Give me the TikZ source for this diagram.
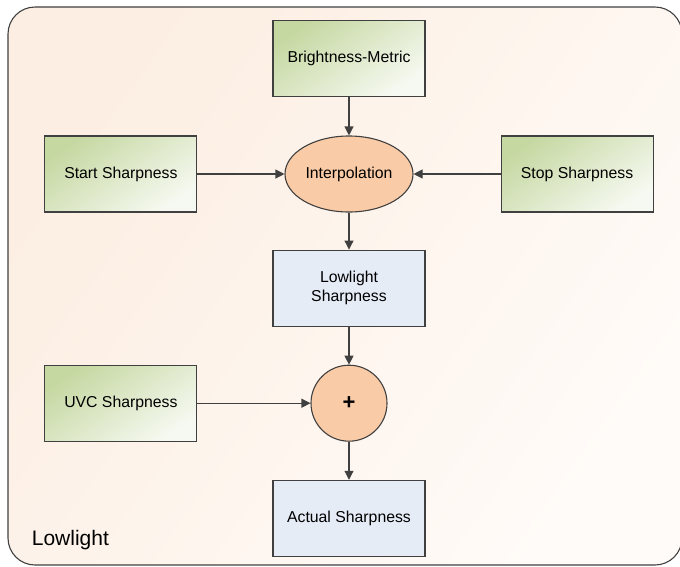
\documentclass[tikz,border=0pt]{standalone}
\usepackage{fontspec}
\setmainfont{Liberation Sans}
\usetikzlibrary{positioning,arrows.meta,shapes.geometric,calc}
\definecolor{bgdark}{HTML}{FCEEE2}
\definecolor{bglight}{HTML}{FFFBF8}
\definecolor{srcdark}{HTML}{C6D8A2}
\definecolor{srclight}{HTML}{F6F9F1}
\definecolor{resfill}{HTML}{E6ECF6}
\definecolor{opfill}{HTML}{F9CBA6}
\definecolor{edge}{HTML}{404040}
\begin{document}
\begin{tikzpicture}[x=1pt,y=-1pt,>={Triangle[length=9pt,width=9pt]},
  font=\fontsize{15.8}{19}\selectfont, line width=1.1pt,
  src/.style={draw=edge,top color=srcdark,bottom color=srclight,shading angle=35,
    minimum width=152pt,minimum height=76pt,inner sep=2pt,align=center},
  res/.style={draw=edge,fill=resfill,minimum width=152pt,minimum height=76pt,
    inner sep=2pt,align=center},
  op/.style={draw=edge,fill=opfill,ellipse,inner sep=0pt},
  flow/.style={->,draw=edge}]
  \useasboundingbox (0,0) rectangle (680,566);
  % frame
  \begin{scope}
    \clip (0,0) rectangle (680,566);
    \draw[draw=edge,rounded corners=27pt,top color=bgdark,bottom color=bglight,shading angle=55]
      (8,7) rectangle (682,565);
  \end{scope}
  \node[anchor=west,font=\fontsize{21}{24}\selectfont](lbl) at (28,540){Lowlight};
  % nodes
  \node[op,minimum width=128pt,minimum height=76pt](interp) at (349,174){Interpolation};
  \node[src,above=38pt of interp](bright){Brightness-Metric};
  \node[src,left=87pt of interp](start){Start Sharpness};
  \node[src,right=87pt of interp](stop){Stop Sharpness};
  \node[res,below=37pt of interp](low){Lowlight\\Sharpness};
  \node[op,circle,minimum size=76pt,below=38pt of low,font=\fontsize{22}{24}\selectfont\bfseries](plus){+};
  \node[src](uvc) at (start |- plus){UVC Sharpness};
  \node[res,below=38pt of plus](act){Actual Sharpness};
  % connectors
  \draw[flow](bright)--(interp);
  \draw[flow](start)--(interp);
  \draw[flow](stop)--(interp);
  \draw[flow](interp)--(low);
  \draw[flow](low)--(plus);
  \draw[flow](uvc)--(plus);
  \draw[flow](plus)--(act);
\end{tikzpicture}
\end{document}
